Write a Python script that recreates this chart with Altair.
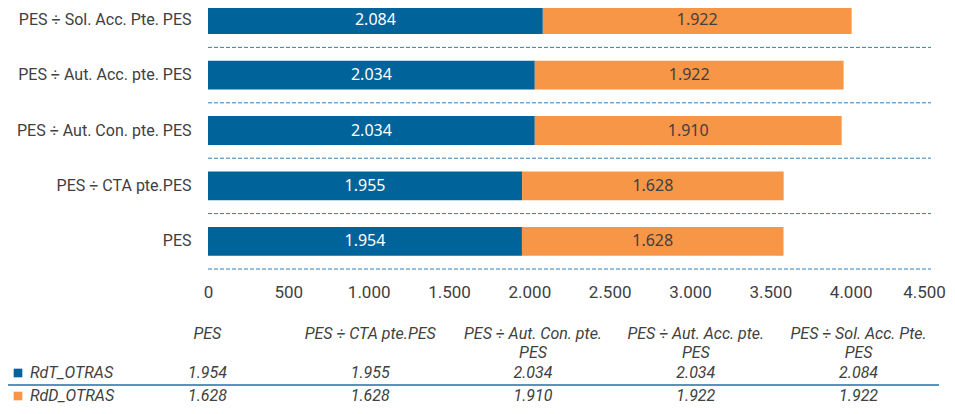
import altair as alt
import pandas as pd

categories = ["PES", "PES ÷ CTA pte.PES", "PES ÷ Aut. Con. pte. PES",
              "PES ÷ Aut. Acc. pte. PES", "PES ÷ Sol. Acc. Pte. PES"]
series = ["RdT_OTRAS", "RdD_OTRAS"]
rdt_values = [1954, 1955, 2034, 2034, 2084]
rdd_values = [1628, 1628, 1910, 1922, 1922]
colors = ["#00639A", "#F79646"]
x_ticks = [0, 500, 1000, 1500, 2000, 2500, 3000, 3500, 4000, 4500]


def fmt(v):
    return f"{v:,}".replace(",", ".")


rows = []
for i, c in enumerate(categories):
    start = 0
    for k, (s, vals) in enumerate(zip(series, [rdt_values, rdd_values])):
        v = vals[i]
        rows.append({"cat": c, "series": s, "ord": k, "value": v,
                     "start": start, "end": start + v, "mid": start + v / 2,
                     "label": fmt(v)})
        start += v
df = pd.DataFrame(rows)
cat_df = pd.DataFrame({"cat": categories,
                       "header": [c.replace(" pte. PES", " pte.\nPES").replace(" Pte. PES", " Pte.\nPES")
                                  for c in categories]})
ser_df = pd.DataFrame({"series": series})

W, H = 723, 261
FN = "Roboto, sans-serif"
GREY = "#404040"

yscale = alt.Scale(domain=categories[::-1], range=[-16, H], paddingInner=0, paddingOuter=0)
ycat = alt.Y("cat:N", scale=yscale,
             axis=alt.Axis(title=None, domain=False, ticks=False, labelPadding=17,
                           labelFontSize=16, labelColor=GREY, labelFont=FN, grid=False))
xq = alt.X("start:Q", scale=alt.Scale(domain=[0, 4500], nice=False),
           axis=alt.Axis(title=None, values=x_ticks, domain=False, ticks=False, grid=False,
                         labelFlush=False,
                         labelOffset={"condition": {"test": "datum.value == 4500", "value": -7},
                                      "value": 0},
                         labelExpr="replace(format(datum.value, ','), ',', '.')",
                         labelFontSize=17, labelColor=GREY, labelFont=FN, labelPadding=15))

bars = alt.Chart(df).mark_bar(height={"band": 0.52}).encode(
    x=xq, x2="end:Q", y=ycat,
    color=alt.Color("series:N", scale=alt.Scale(domain=series, range=colors), legend=None))

grid = alt.Chart(cat_df).mark_rule(strokeDash=[4, 2], color="#2E7FB8", strokeWidth=1).encode(
    y=alt.Y("cat:N", bandPosition=1),
    x=alt.value(0), x2=alt.value("width"))

bartext = alt.Chart(df).mark_text(font="Noto Sans", fontSize=16, baseline="middle").encode(
    x=alt.X("mid:Q"), y=alt.Y("cat:N"), text="label:N",
    color=alt.condition("datum.series == 'RdT_OTRAS'", alt.value("#ffffff"), alt.value(GREY)))

inner = alt.layer(bars, grid, bartext)

tx = alt.X("cat:N", scale=alt.Scale(domain=categories, range=[-82, 732], paddingInner=0, paddingOuter=0),
           axis=None)
ysr = alt.Y("series:N", scale=alt.Scale(type="point", domain=series, range=[365, 388], padding=0),
            axis=None)

header = alt.Chart(cat_df).mark_text(lineBreak="\n", lineHeight=19, fontStyle="italic", font=FN,
                                     fontSize=16, color=GREY, baseline="middle").encode(
    x=tx, y=alt.value(326), text="header:N")

tvals = alt.Chart(df).mark_text(fontStyle="italic", font=FN, fontSize=16, color=GREY,
                                baseline="middle").encode(x=tx, y=ysr, text="label:N")

rlabels = alt.Chart(ser_df).mark_text(fontStyle="italic", font=FN, fontSize=16, color=GREY,
                                      align="left", baseline="middle").encode(
    x=alt.value(-178), y=ysr, text="series:N")

squares = alt.Chart(ser_df).mark_square(size=75, opacity=1).encode(
    x=alt.value(-190), y=ysr,
    color=alt.Color("series:N", scale=alt.Scale(domain=series, range=colors), legend=None))

sep = alt.Chart(pd.DataFrame({"a": [0]})).mark_rule(color="#1F6FA3", strokeWidth=1.5).encode(
    x=alt.value(-202), x2=alt.value(731), y=alt.value(377))

chart = alt.layer(inner, header, tvals, rlabels, squares, sep).resolve_scale(
    x="independent", y="independent", color="independent"
).properties(
    width=W, height=H,
    autosize=alt.AutoSizeParams(type="none"),
    padding={"left": 200, "top": 0, "right": 16, "bottom": 137},
).configure_view(stroke=None)

chart.save("out.html", embed_options={"renderer": "svg", "actions": False})
